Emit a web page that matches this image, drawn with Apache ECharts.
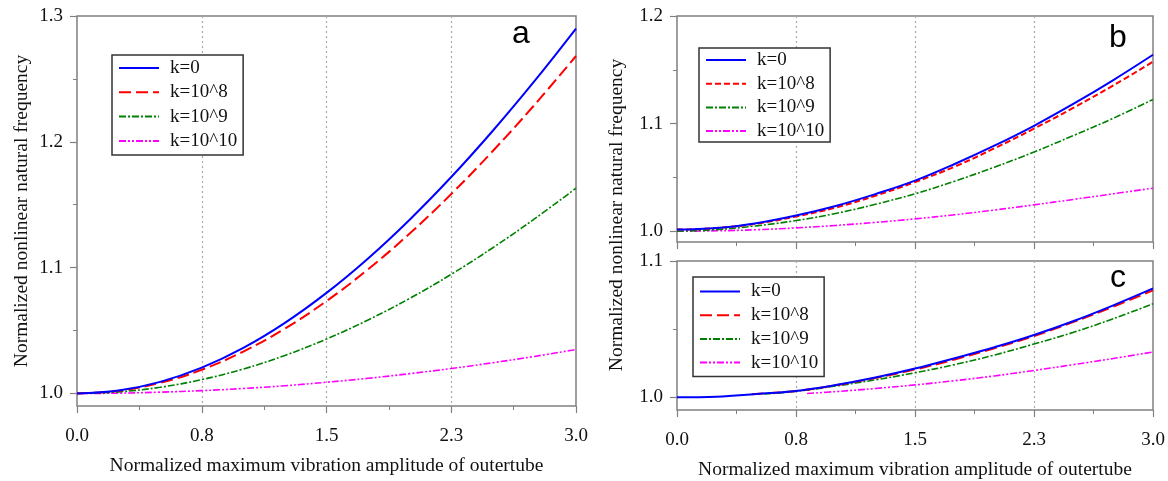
<!DOCTYPE html>
<html>
<head>
<meta charset="utf-8">
<script src="https://cdn.jsdelivr.net/npm/echarts@6/dist/echarts.min.js"></script>
<style>html,body{margin:0;padding:0;background:#fff}#c{width:1168px;height:481px}</style>
</head>
<body>
<div id="c"></div>
<script>
// ---------- data ----------
const xTickValues = [0, 0.75, 1.5, 2.25, 3];
const xTickLabels = ['0.0', '0.8', '1.5', '2.3', '3.0'];
const xMinorTicks = [0.375, 1.125, 1.875, 2.625];
const yTicksA = [1.0, 1.1, 1.2, 1.3];
const yTicksB = [1.0, 1.1, 1.2];
const yTicksC = [1.0, 1.1];
const yMinorA = [1.05, 1.15, 1.25];
const yMinorB = [1.05, 1.15];
const yMinorC = [1.05];
const seriesNames = ['k=0', 'k=10^8', 'k=10^9', 'k=10^10'];

const X = [0, 0.25, 0.5, 0.75, 1, 1.25, 1.5, 1.75, 2, 2.25, 2.5, 2.75, 3];

// panel a
const aK0  = [1.0000, 1.0023, 1.0092, 1.0205, 1.0362, 1.0561, 1.0799, 1.1073, 1.1381, 1.1720, 1.2088, 1.2482, 1.2900];
const aK8  = [1.0000, 1.0021, 1.0084, 1.0188, 1.0333, 1.0515, 1.0734, 1.0987, 1.1271, 1.1585, 1.1927, 1.2293, 1.2682];
const aK9  = [1.0000, 1.0012, 1.0049, 1.0110, 1.0194, 1.0302, 1.0432, 1.0584, 1.0755, 1.0947, 1.1158, 1.1387, 1.1631];
const aK10 = [1.0000, 1.0002, 1.0010, 1.0022, 1.0039, 1.0061, 1.0089, 1.0120, 1.0157, 1.0198, 1.0244, 1.0294, 1.0349];

// panel b
const bK0  = [1.0015, 1.0030, 1.0075, 1.0146, 1.0235, 1.0345, 1.0470, 1.0625, 1.0795, 1.0980, 1.1185, 1.1405, 1.1640];
const bK8  = [1.0015, 1.0030, 1.0070, 1.0137, 1.0220, 1.0330, 1.0457, 1.0600, 1.0770, 1.0953, 1.1148, 1.1355, 1.1575];
const bK9  = [1.0000, 1.0015, 1.0050, 1.0099, 1.0165, 1.0250, 1.0348, 1.0465, 1.0595, 1.0736, 1.0890, 1.1050, 1.1224];
const bK10 = [1.0000, 1.0004, 1.0014, 1.0031, 1.0054, 1.0082, 1.0115, 1.0153, 1.0197, 1.0245, 1.0296, 1.0348, 1.0400];

// panel c
const cK0   = [1.0000, 1.0005, 1.0025, 1.0047, 1.0090, 1.0145, 1.0211, 1.0287, 1.0367, 1.0457, 1.0560, 1.0675, 1.0799];
const cK8X  = [0.47, 0.75, 1, 1.25, 1.5, 1.75, 2, 2.25, 2.5, 2.75, 3];
const cK8   = [1.0022, 1.0047, 1.0088, 1.0142, 1.0204, 1.0278, 1.0360, 1.0450, 1.0553, 1.0665, 1.0785];
const cK9X  = [0.55, 0.75, 1, 1.25, 1.5, 1.75, 2, 2.25, 2.5, 2.75, 3];
const cK9   = [1.0024, 1.0044, 1.0083, 1.0128, 1.0180, 1.0240, 1.0310, 1.0391, 1.0477, 1.0577, 1.0686];
const cK10X = [0.82, 1, 1.25, 1.5, 1.75, 2, 2.25, 2.5, 2.75, 3];
const cK10  = [1.0028, 1.0042, 1.0065, 1.0091, 1.0122, 1.0157, 1.0197, 1.0240, 1.0285, 1.0333];

// ---------- chart ----------
const SERIF = 'Liberation Serif';
const FRAME = '#808080';
const TXT = '#111';
const pair = (xs, ys) => xs.map((x, i) => [x, ys[i]]);

const grids = [
  {left: 77, top: 16, width: 499, height: 398},
  {left: 677, top: 16, width: 476, height: 226},
  {left: 677, top: 261, width: 476, height: 154}
];

const yRanges = [
  {min: 0.99, max: 1.3, ticks: yTicksA, minor: yMinorA},
  {min: 0.99, max: 1.2, ticks: yTicksB, minor: yMinorB},
  {min: 0.9907, max: 1.1, ticks: yTicksC, minor: yMinorC}
];

const xAxes = [], yAxes = [];
grids.forEach((g, gi) => {
  xAxes.push({
    type: 'value', gridIndex: gi, min: 0, max: 3, position: 'bottom',
    axisLine: {show: false},
    axisTick: {show: true, customValues: xTickValues, length: 7, lineStyle: {color: FRAME, width: 1.2}},
    axisLabel: {
      show: gi !== 1, customValues: xTickValues, margin: 21,
      formatter: v => xTickLabels[xTickValues.indexOf(v)] ?? '',
      fontFamily: SERIF, fontSize: 19, color: TXT
    },
    splitLine: {show: false},
    name: gi === 1 ? '' : 'Normalized maximum vibration amplitude of outertube',
    nameLocation: 'middle', nameGap: 50,
    nameTextStyle: {fontFamily: SERIF, fontSize: 19.5, color: TXT}
  });
  // dotted vertical gridlines
  xAxes.push({
    type: 'value', gridIndex: gi, min: 0, max: 3, interval: 0.75, position: 'bottom',
    axisLine: {show: false}, axisTick: {show: false}, axisLabel: {show: false},
    splitLine: {show: true, showMinLine: false, showMaxLine: false,
      lineStyle: {color: '#aaaaaa', type: [2, 3], width: 1.2}}
  });
  // minor ticks
  xAxes.push({
    type: 'value', gridIndex: gi, min: 0, max: 3, position: 'bottom',
    axisLine: {show: false}, axisLabel: {show: false}, splitLine: {show: false},
    axisTick: {show: true, customValues: xMinorTicks, length: 4, lineStyle: {color: FRAME, width: 1}}
  });

  const r = yRanges[gi];
  yAxes.push({
    type: 'value', gridIndex: gi, min: r.min, max: r.max, position: 'left',
    axisLine: {show: false},
    axisTick: {show: true, customValues: r.ticks, length: 7, lineStyle: {color: FRAME, width: 1.2}},
    axisLabel: {show: true, customValues: r.ticks, margin: 14,
      formatter: v => v.toFixed(1), fontFamily: SERIF, fontSize: 19, color: TXT},
    splitLine: {show: false},
    name: gi === 0 ? 'Normalized nonlinear natural frequency' : '',
    nameLocation: 'middle', nameGap: 45,
    nameTextStyle: {fontFamily: SERIF, fontSize: 19.5, color: TXT}
  });
  yAxes.push({
    type: 'value', gridIndex: gi, min: r.min, max: r.max, position: 'left',
    axisLine: {show: false}, axisLabel: {show: false}, splitLine: {show: false},
    axisTick: {show: true, customValues: r.minor, length: 4, lineStyle: {color: FRAME, width: 1}}
  });
});

const styles = [
  {color: '#0000ff', width: 2, type: 'solid'},
  {color: '#ff0000', width: 2, type: [12, 5]},
  {color: '#008000', width: 1.6, type: [7, 2, 2, 2]},
  {color: '#ff00ff', width: 1.6, type: [7, 2, 2, 2, 2, 2]}
];
const bRedDash = [6, 3];

const panelData = [
  [pair(X, aK0), pair(X, aK8), pair(X, aK9), pair(X, aK10)],
  [pair(X, bK0), pair(X, bK8), pair(X, bK9), pair(X, bK10)],
  [pair(X, cK0), pair(cK8X, cK8), pair(cK9X, cK9), pair(cK10X, cK10)]
];
const panelTags = ['a', 'b', 'c'];

const series = [];
panelData.forEach((arr, gi) => {
  arr.forEach((d, si) => {
    const st = Object.assign({}, styles[si]);
    if (gi === 1 && si === 1) st.type = bRedDash;
    series.push({
      type: 'line', name: seriesNames[si] + '|' + panelTags[gi],
      xAxisIndex: gi * 3, yAxisIndex: gi * 2,
      data: d, smooth: 0.4, symbol: 'none', showSymbol: false,
      color: st.color, itemStyle: {color: st.color},
      lineStyle: st, z: 10 - si, animation: false
    });
  });
});

const legendPos = [
  {left: 112, top: 55, itemGap: 5.3, padding: [3.5, 6, 4.5, 6]},
  {left: 699, top: 48, itemGap: 4.7, padding: [2.5, 6, 1.5, 6]},
  {left: 693, top: 277, itemGap: 4.7, padding: [5, 6, 4.5, 6]}
];
const legends = legendPos.map((p, gi) => ({
  show: true, orient: 'vertical', left: p.left, top: p.top,
  data: seriesNames.map(n => n + '|' + panelTags[gi]),
  formatter: n => n.split('|')[0],
  itemWidth: 40, itemHeight: 18, itemGap: p.itemGap,
  padding: p.padding,
  itemStyle: {opacity: 0},
  borderColor: '#333', borderWidth: 1.5, backgroundColor: '#fff',
  textStyle: {fontFamily: SERIF, fontSize: 19, color: TXT, padding: [0, 0, 0, 6]},
  selectedMode: false
}));

const graphics = [
  {type: 'text', x: 617, y: 215, rotation: Math.PI / 2,
    style: {text: 'Normalized nonlinear natural frequency', fontFamily: SERIF, fontSize: 19.5,
      fill: TXT, align: 'center', verticalAlign: 'middle'}},
  {type: 'text', x: 521, y: 34, style: {text: 'a', fontFamily: 'Liberation Sans', fontSize: 32, fill: '#000', align: 'center', verticalAlign: 'middle'}},
  {type: 'text', x: 1118, y: 38, style: {text: 'b', fontFamily: 'Liberation Sans', fontSize: 32, fill: '#000', align: 'center', verticalAlign: 'middle'}},
  {type: 'text', x: 1118, y: 278, style: {text: 'c', fontFamily: 'Liberation Sans', fontSize: 32, fill: '#000', align: 'center', verticalAlign: 'middle'}}
];

const chart = echarts.init(document.getElementById('c'), null, {renderer: 'canvas'});
chart.setOption({
  animation: false,
  backgroundColor: '#fff',
  grid: grids.map(g => Object.assign({show: true, borderColor: FRAME, borderWidth: 1.5, backgroundColor: 'transparent'}, g)),
  xAxis: xAxes,
  yAxis: yAxes,
  legend: legends,
  series: series,
  graphic: graphics
});
</script>
</body>
</html>
